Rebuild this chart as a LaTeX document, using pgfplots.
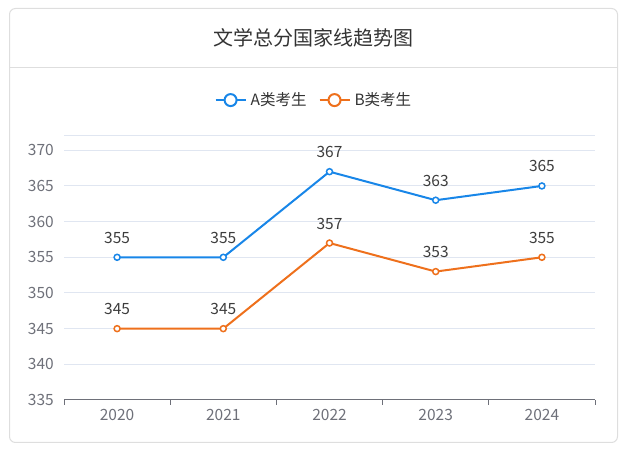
\documentclass[border=0pt]{standalone}
\usepackage{fontspec}
\setmainfont{Noto Sans CJK SC}
\usepackage{pgfplots}
\pgfplotsset{compat=1.18}
\definecolor{cA}{RGB}{24,134,232}
\definecolor{cB}{RGB}{238,112,28}
\definecolor{gridc}{RGB}{224,230,241}
\definecolor{tickc}{RGB}{110,112,121}
\definecolor{cardc}{RGB}{222,222,222}
\definecolor{titlec}{RGB}{51,51,51}
\definecolor{labc}{RGB}{60,60,60}
\begin{document}
\begin{tikzpicture}[x=1pt,y=1pt]
\path[use as bounding box] (0,0) rectangle (626,452);
\draw[cardc, rounded corners=6pt, line width=1pt] (9.5,9.5) rectangle (617.5,443.5);
\draw[cardc, line width=1pt] (9.5,384) -- (617.5,384);
\node[font=\fontsize{20}{24}\selectfont, text=titlec] at (313.5,414) {文学总分国家线趋势图};
\begin{axis}[
  at={(64pt,52pt)}, anchor=south west, scale only axis, width=531pt, height=264pt,
  xmin=-0.5, xmax=4.5, ymin=335, ymax=372,
  ytick={335,340,...,370},
  xtick={-0.5,0.5,...,4.5}, xticklabels={},
  extra x ticks={0,1,2,3,4}, extra x tick labels={2020,2021,2022,2023,2024},
  extra x tick style={major tick length=0pt, xmajorgrids=false},
  /pgf/number format/assume math mode=true,
  /pgf/number format/1000 sep={},
  axis x line*=bottom, axis y line*=left,
  separate axis lines,
  y axis line style={draw=none},
  x axis line style={draw=tickc, line width=1pt},
  ymajorgrids, grid style={gridc, line width=1pt},
  extra y ticks={372}, extra y tick labels={},
  extra y tick style={grid style={gridc, line width=1pt}},
  ytick style={draw=none},
  xtick style={draw=tickc, line width=1pt},
  major tick length=5pt, tick align=outside,
  ticklabel style={font=\fontsize{15.5}{18}\selectfont, text=tickc},
  yticklabel style={inner sep=0pt, xshift=-5pt},
  xticklabel style={inner sep=0pt, yshift=-9pt},
  nodes near coords,
  every node near coord/.append style={anchor=base, yshift=14pt, inner sep=0pt, font=\fontsize{15.5}{18}\selectfont, text=labc},
  clip=false,
  legend style={draw=none, fill=none, at={(0.4725,1.136)}, anchor=center, legend columns=2, font=\fontsize{15.5}{18}\selectfont, text=titlec, nodes={inner xsep=4pt}, /tikz/every even column/.append style={column sep=8pt}},
  legend cell align=left,
  legend image code/.code={\draw[#1, mark=none, line width=2pt] (0pt,0pt) -- (30pt,0pt); \draw[#1, mark=none, line width=2pt, fill=white] (15pt,0pt) circle (6pt);},
]
\addplot[cA, line width=2pt, mark=*, mark size=3pt, mark options={fill=white, draw=cA, line width=1.5pt}] coordinates {(0,355) (1,355) (2,367) (3,363) (4,365)};
\addlegendentry{A类考生}
\addplot[cB, line width=2pt, mark=*, mark size=3pt, mark options={fill=white, draw=cB, line width=1.5pt}] coordinates {(0,345) (1,345) (2,357) (3,353) (4,355)};
\addlegendentry{B类考生}
\end{axis}
\end{tikzpicture}
\end{document}
